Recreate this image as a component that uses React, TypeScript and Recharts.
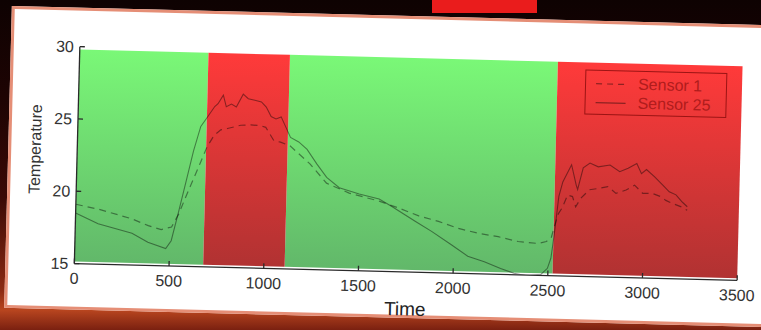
import React from 'react';
import {
    LineChart,
    Line,
    XAxis,
    YAxis,
    ReferenceArea,
    Legend,
} from 'recharts';

const FONT = '"Liberation Sans", Arial, Helvetica, sans-serif';

// [time, temperature]
const SENSOR_1 = [
    [0, 19.1], [121, 18.8], [296, 18.2], [385, 17.75], [454, 17.5], [508, 17.7],
    [544, 18.6], [579, 19.8], [614, 20.95], [649, 22.1], [685, 23.3], [720, 24.1],
    [755, 24.5], [790, 24.6], [860, 24.85], [913, 24.9], [966, 24.85], [992, 24.75],
    [1036, 23.85], [1072, 23.75], [1124, 23.5], [1168, 23.0], [1230, 22.3], [1320, 21.0],
    [1441, 20.35], [1600, 19.85], [1705, 19.4], [1811, 18.9], [1916, 18.55], [2022, 18.1],
    [2127, 17.8], [2233, 17.6], [2339, 17.3], [2444, 17.2], [2488, 17.35], [2513, 17.6],
    [2530, 18.5], [2548, 19.3], [2567, 19.7], [2594, 20.6], [2620, 20.5], [2638, 19.8],
    [2664, 20.4], [2708, 21.0], [2752, 21.1], [2805, 21.25], [2849, 20.8], [2902, 21.05],
    [2946, 21.4], [2990, 20.85], [3042, 20.85], [3087, 20.65], [3113, 20.4], [3148, 20.2],
    [3192, 20.0], [3227, 19.75],
];

const SENSOR_25 = [
    [0, 18.5], [120, 17.8], [300, 17.2], [385, 16.6], [480, 16.2], [508, 16.75],
    [544, 18.8], [579, 20.9], [614, 23.0], [649, 24.7], [685, 25.4], [720, 26.1],
    [737, 26.3], [764, 26.9], [781, 26.1], [808, 26.3], [834, 26.1], [869, 27.0],
    [896, 26.7], [931, 26.6], [966, 26.5], [992, 26.15], [1019, 25.5], [1045, 25.35],
    [1072, 25.5], [1098, 24.8], [1124, 24.1], [1168, 23.8], [1213, 23.3], [1267, 22.3],
    [1320, 21.4], [1388, 20.7], [1494, 20.3], [1600, 20.0], [1668, 19.5], [1795, 18.5],
    [1881, 17.85], [1987, 16.96], [2075, 16.2], [2163, 15.85], [2250, 15.4], [2321, 15.1],
    [2391, 14.95], [2462, 15.05], [2497, 15.5], [2514, 16.2], [2523, 17.2], [2532, 18.3],
    [2548, 20.5], [2567, 21.5], [2611, 22.7], [2638, 21.3], [2646, 21.0], [2673, 22.5],
    [2708, 22.85], [2752, 22.6], [2814, 22.75], [2866, 22.3], [2910, 22.55], [2955, 22.9],
    [2981, 22.2], [3007, 22.5], [3051, 22.0], [3095, 21.45], [3130, 21.0], [3166, 20.8],
    [3201, 20.3], [3227, 20.0],
];

const GREEN_ZONES = [[0, 680], [1110, 2525]];
const RED_ZONES = [[680, 1110], [2525, 3500]];
const ZONE_LOW = 15.15;
const ZONE_HIGH = 29.8;

const X_TICKS = [0, 500, 1000, 1500, 2000, 2500, 3000, 3500];
const Y_TICKS = [15, 20, 25, 30];

const s1Data = SENSOR_1.map(([t, v]) => ({ t, v }));
const s25Data = SENSOR_25.map(([t, v]) => ({ t, v }));

const axisStroke = { stroke: '#2a2a2a', strokeWidth: 1.3 };
const tickStyle = { fill: '#333', fontSize: 16, fontFamily: FONT };

function TempLabel(props: any) {
    const vb = props.viewBox || { x: 37, y: 55, height: 217 };
    const cx = vb.x - 2;
    const cy = vb.y + vb.height / 2 - 5;
    return (
        <text
            x={cx}
            y={cy}
            transform={`rotate(-90 ${cx} ${cy})`}
            textAnchor="middle"
            dominantBaseline="central"
            fill="#333"
            fontSize={16}
            fontFamily={FONT}
        >
            Temperature
        </text>
    );
}

function LegendBox() {
    const row = (dash: string | undefined, text: string) => (
        <div style={{ display: 'flex', alignItems: 'center', height: 19 }}>
            <svg width={40} height={10} style={{ marginLeft: 8 }}>
                <line x1={2} y1={5} x2={32} y2={5} stroke="#000" strokeOpacity={0.42} strokeWidth={1.2} strokeDasharray={dash} />
            </svg>
            <span style={{ marginLeft: 4 }}>{text}</span>
        </div>
    );
    return (
        <div
            style={{
                width: 142,
                height: 45,
                boxSizing: 'border-box',
                border: '1px solid #9c1414',
                fontFamily: FONT,
                fontSize: 16,
                color: '#b01c1c',
                paddingTop: 3,
                lineHeight: '19px',
            }}
        >
            {row('6 5', 'Sensor 1')}
            {row(undefined, 'Sensor 25')}
        </div>
    );
}

export default function App() {
    return (
        <div
            style={{
                position: 'fixed',
                left: 0,
                top: 0,
                width: 761,
                height: 330,
                overflow: 'hidden',
                background: 'linear-gradient(180deg, #0e0202 0%, #1e0403 30%, #3a0a06 60%, #8c2a12 88%, #b8451f 94%, #7a2010 100%)',
            }}
        >
            {/* red bar from the slide title */}
            <div style={{ position: 'absolute', left: 432, top: 0, width: 105, height: 13, background: '#ea1c1c' }} />

            <div
                style={{
                    position: 'absolute',
                    left: 0,
                    top: 0,
                    width: 761,
                    height: 330,
                    transform: 'rotate(1.45deg)',
                    transformOrigin: '408.5px 163px',
                }}
            >
                <div
                    style={{
                        position: 'absolute',
                        left: 8,
                        top: 16,
                        width: 800,
                        height: 302,
                        boxSizing: 'border-box',
                        background: '#fff',
                        border: '3px solid #e58e76',
                    }}
                />
                <div style={{ position: 'absolute', left: 0, top: 0 }}>
                    <LineChart width={761} height={330} margin={{ top: 55, right: 21, bottom: 28, left: 37 }}>
                        <defs>
                            <linearGradient id="grn" x1="0" y1="0" x2="0" y2="1">
                                <stop offset="0%" stopColor="#7af877" />
                                <stop offset="100%" stopColor="#62b86a" />
                            </linearGradient>
                            <linearGradient id="red" x1="0" y1="0" x2="0" y2="1">
                                <stop offset="0%" stopColor="#ff3a3a" />
                                <stop offset="100%" stopColor="#b13232" />
                            </linearGradient>
                        </defs>

                        {GREEN_ZONES.map(([a, b]) => (
                            <ReferenceArea key={`g${a}`} x1={a} x2={b} y1={ZONE_LOW} y2={ZONE_HIGH} fill="url(#grn)" fillOpacity={1} stroke="none" />
                        ))}
                        {RED_ZONES.map(([a, b]) => (
                            <ReferenceArea key={`r${a}`} x1={a} x2={b} y1={ZONE_LOW} y2={ZONE_HIGH} fill="url(#red)" fillOpacity={1} stroke="none" />
                        ))}

                        <XAxis
                            dataKey="t"
                            type="number"
                            domain={[0, 3500]}
                            ticks={X_TICKS}
                            allowDataOverflow
                            height={30}
                            tickSize={-5}
                            tickMargin={14}
                            axisLine={axisStroke}
                            tickLine={axisStroke}
                            tick={tickStyle}
                            label={{ value: 'Time', position: 'bottom', offset: 0, fill: '#222', fontSize: 19, fontFamily: FONT }}
                        />
                        <XAxis
                            xAxisId="top"
                            orientation="top"
                            dataKey="t"
                            type="number"
                            domain={[0, 3500]}
                            ticks={X_TICKS}
                            height={0}
                            tickSize={-5}
                            axisLine={axisStroke}
                            tickLine={axisStroke}
                            tick={false}
                        />
                        <YAxis
                            type="number"
                            domain={[15, 30]}
                            ticks={Y_TICKS}
                            allowDataOverflow
                            width={40}
                            tickSize={-5}
                            tickMargin={11}
                            axisLine={axisStroke}
                            tickLine={axisStroke}
                            tick={tickStyle}
                            label={{ content: <TempLabel /> }}
                        />
                        <YAxis
                            yAxisId="right"
                            orientation="right"
                            type="number"
                            domain={[15, 30]}
                            ticks={Y_TICKS}
                            width={0}
                            tickSize={-5}
                            axisLine={axisStroke}
                            tickLine={axisStroke}
                            tick={false}
                        />

                        <Line
                            data={s1Data}
                            dataKey="v"
                            name="Sensor 1"
                            type="linear"
                            stroke="#000"
                            strokeOpacity={0.42}
                            strokeWidth={1.2}
                            strokeDasharray="7 5"
                            dot={false}
                            isAnimationActive={false}
                        />
                        <Line
                            data={s25Data}
                            dataKey="v"
                            name="Sensor 25"
                            type="linear"
                            stroke="#000"
                            strokeOpacity={0.42}
                            strokeWidth={1.1}
                            dot={false}
                            isAnimationActive={false}
                        />

                        <Legend
                            layout="horizontal"
                            verticalAlign="middle"
                            align="center"
                            wrapperStyle={{ left: 583, top: 65, width: 142, height: 45 }}
                            content={() => <LegendBox />}
                        />
                    </LineChart>
                </div>
            </div>
        </div>
    );
}
